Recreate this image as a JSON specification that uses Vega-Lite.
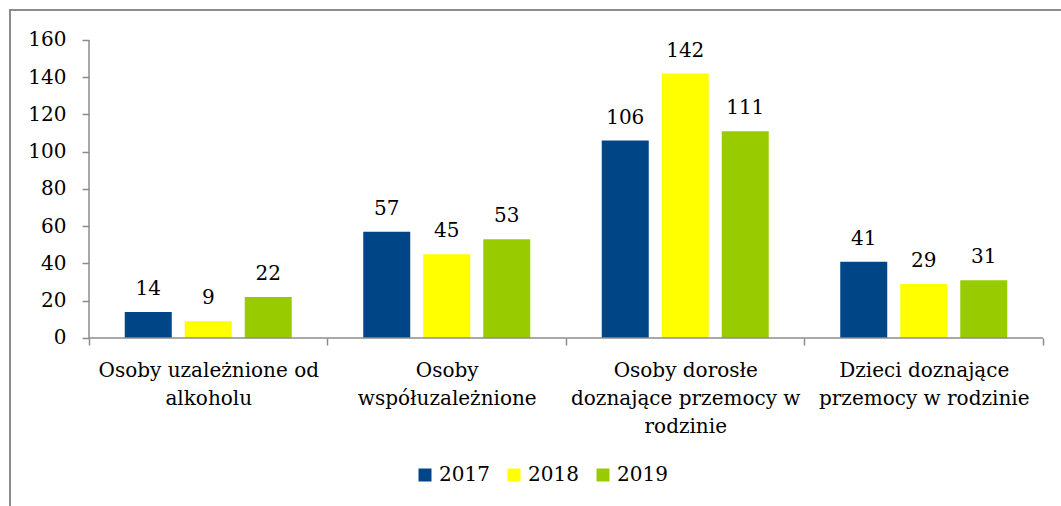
{
  "$schema": "https://vega.github.io/schema/vega-lite/v6.json",
  "width": 1054,
  "height": 499,
  "autosize": {"type": "none"},
  "padding": {"left": 10, "top": 10, "right": -3, "bottom": -3},
  "background": "white",
  "config": {
    "view": {"stroke": "#8c8c8c", "strokeWidth": 2},
    "font": "DejaVu Serif",
    "axis": {"labelFont": "DejaVu Serif", "labelFontSize": 20, "labelColor": "#000000", "grid": false, "domain": false, "tickColor": "#8c8c8c", "tickWidth": 1.5, "tickSize": 7},
    "legend": {"labelFont": "DejaVu Serif", "labelFontSize": 20, "labelColor": "#000000"}
  },
  "data": {
    "values": [
      {"kategoria": "Osoby uzależnione od alkoholu", "rok": "2017", "liczba": 14},
      {"kategoria": "Osoby uzależnione od alkoholu", "rok": "2018", "liczba": 9},
      {"kategoria": "Osoby uzależnione od alkoholu", "rok": "2019", "liczba": 22},
      {"kategoria": "Osoby współuzależnione", "rok": "2017", "liczba": 57},
      {"kategoria": "Osoby współuzależnione", "rok": "2018", "liczba": 45},
      {"kategoria": "Osoby współuzależnione", "rok": "2019", "liczba": 53},
      {"kategoria": "Osoby dorosłe doznające przemocy w rodzinie", "rok": "2017", "liczba": 106},
      {"kategoria": "Osoby dorosłe doznające przemocy w rodzinie", "rok": "2018", "liczba": 142},
      {"kategoria": "Osoby dorosłe doznające przemocy w rodzinie", "rok": "2019", "liczba": 111},
      {"kategoria": "Dzieci doznające przemocy w rodzinie", "rok": "2017", "liczba": 41},
      {"kategoria": "Dzieci doznające przemocy w rodzinie", "rok": "2018", "liczba": 29},
      {"kategoria": "Dzieci doznające przemocy w rodzinie", "rok": "2019", "liczba": 31}
    ]
  },
  "layer": [
    {
      "mark": {"type": "bar"},
      "encoding": {
        "x": {
          "field": "kategoria",
          "type": "nominal",
          "scale": {
            "domain": ["Osoby uzależnione od alkoholu", "Osoby współuzależnione", "Osoby dorosłe doznające przemocy w rodzinie", "Dzieci doznające przemocy w rodzinie"],
            "paddingInner": 0,
            "paddingOuter": 0.20964,
            "align": 0.79
          },
          "axis": {
            "title": null,
            "orient": "bottom",
            "offset": -171,
            "tickBand": "extent",
            "labelAngle": 0,
            "labelPadding": 15,
            "labelLineHeight": 28,
            "labelLimit": 0,
            "labelOverlap": false,
            "labelBound": false,
            "labelExpr": "datum.value == 'Osoby uzależnione od alkoholu' ? ['Osoby uzależnione od', 'alkoholu'] : datum.value == 'Osoby współuzależnione' ? ['Osoby', 'współuzależnione'] : datum.value == 'Osoby dorosłe doznające przemocy w rodzinie' ? ['Osoby dorosłe', 'doznające przemocy w', 'rodzinie'] : datum.value == 'Dzieci doznające przemocy w rodzinie' ? ['Dzieci doznające', 'przemocy w rodzinie'] : ''"
          }
        },
        "xOffset": {
          "field": "rok",
          "type": "nominal",
          "scale": {"paddingInner": 0.2167, "paddingOuter": 0.5958}
        },
        "y": {
          "field": "liczba",
          "type": "quantitative",
          "scale": {"domain": [-91.812, 176.107], "nice": false, "zero": false},
          "axis": {
            "title": null,
            "orient": "left",
            "offset": -79,
            "values": [0, 20, 40, 60, 80, 100, 120, 140, 160],
            "labelPadding": 16
          }
        },
        "y2": {"datum": 0},
        "color": {
          "field": "rok",
          "type": "nominal",
          "scale": {"domain": ["2017", "2018", "2019"], "range": ["#004586", "#ffff00", "#99cc00"]},
          "legend": {
            "title": null,
            "orient": "none",
            "legendX": 405,
            "legendY": 455,
            "direction": "horizontal",
            "symbolType": "square",
            "symbolSize": 169,
            "symbolStrokeWidth": 0,
            "labelOffset": 4,
            "columnPadding": 14,
            "padding": 0
          }
        }
      }
    },
    {
      "mark": {"type": "text", "dy": -17, "baseline": "alphabetic", "align": "center", "fontSize": 20, "font": "DejaVu Serif", "color": "#000000"},
      "encoding": {
        "x": {"field": "kategoria", "type": "nominal"},
        "xOffset": {"field": "rok", "type": "nominal"},
        "y": {"field": "liczba", "type": "quantitative"},
        "text": {"field": "liczba", "type": "quantitative"}
      }
    },
    {
      "data": {"values": [{}]},
      "mark": {"type": "rule", "color": "#8c8c8c", "strokeWidth": 1.5},
      "encoding": {
        "x": {"datum": "Osoby uzależnione od alkoholu", "type": "nominal", "bandPosition": 0, "title": null},
        "y": {"datum": 0, "type": "quantitative", "title": null},
        "y2": {"datum": 160}
      }
    },
    {
      "data": {"values": [{}]},
      "mark": {"type": "rule", "color": "#8c8c8c", "strokeWidth": 1.5},
      "encoding": {
        "x": {"datum": "Osoby uzależnione od alkoholu", "type": "nominal", "bandPosition": 0, "title": null},
        "x2": {"datum": "Dzieci doznające przemocy w rodzinie", "bandPosition": 1},
        "y": {"datum": 0, "type": "quantitative", "title": null}
      }
    }
  ]
}
